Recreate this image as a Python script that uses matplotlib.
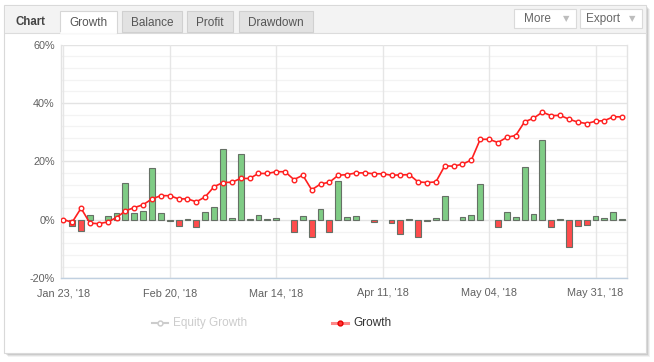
import numpy as np
import matplotlib
matplotlib.use("Agg")
import matplotlib.pyplot as plt
from matplotlib.patches import Rectangle

# ---- data ----
tick_positions = [0, 12, 24, 36, 48, 60]
tick_labels = ["Jan 23, '18", "Feb 20, '18", "Mar 14, '18", "Apr 11, '18", "May 04, '18", "May 31, '18"]
y_ticks = [-20, 0, 20, 40, 60]
y_labels = ["-20%", "0%", "20%", "40%", "60%"]

growth = [0.1, -0.8, 4.0, -1.1, -1.3, -0.7, 0.8, 3.1, 4.2, 5.2,
          7.2, 8.3, 8.3, 7.2, 7.2, 6.2, 7.9, 11.4, 12.8, 12.9,
          14.2, 14.2, 15.9, 15.9, 16.5, 16.5, 13.8, 15.3, 10.3, 12.3,
          12.9, 15.3, 15.5, 16.1, 16.1, 15.8, 15.8, 15.3, 15.4, 15.5,
          13.0, 12.8, 13.0, 18.5, 18.4, 19.1, 20.5, 27.6, 27.6, 26.5,
          28.3, 28.9, 33.6, 34.8, 36.9, 35.7, 35.8, 34.5, 33.5, 33.0,
          33.8, 34.0, 35.3, 35.3]

period = [0.0, -2.1, -3.9, 1.6, 0.0, 1.2, 2.3, 12.6, 2.3, 3.0,
          17.7, 2.3, -0.4, -2.2, 0.3, -2.5, 2.6, 4.3, 24.2, 0.6,
          22.5, 0.3, 1.6, 0.3, 0.6, 0.0, -4.2, 1.3, -5.7, 3.7,
          -4.0, 13.3, 0.9, 1.3, 0.0, -0.8, 0.0, -1.1, -4.9, 0.3,
          -5.7, -0.5, 0.6, 8.1, 0.0, 0.9, 1.7, 12.2, 0.0, -2.5,
          2.6, 0.9, 18.1, 2.0, 27.3, -2.5, 0.3, -9.4, -2.2, -1.9,
          1.3, 0.6, 2.6, 0.3]

W, H = 654, 362
fig = plt.figure(figsize=(W / 100, H / 100), dpi=100)
fig.patch.set_facecolor("white")

# ---- overlay for page decorations (pixel coords) ----
ov = fig.add_axes([0, 0, 1, 1], zorder=0)
ov.set_xlim(0, W)
ov.set_ylim(H, 0)
ov.axis("off")

# shadow
for k, a in [(4, 0.05), (3, 0.07), (2, 0.09), (1, 0.12)]:
    ov.add_patch(Rectangle((4 + k, 5 + k), 642, 348, facecolor="#000000", alpha=a, edgecolor="none", zorder=0))
# panel
ov.add_patch(Rectangle((4, 5), 642, 348, facecolor="white", edgecolor="#d9d9d9", lw=0.8, zorder=1))
# header bar
ov.add_patch(Rectangle((4.5, 5.5), 641, 27, facecolor="#f3f3f3", edgecolor="none", zorder=2))
ov.plot([4.5, 645.5], [32.5, 32.5], color="#dcdcdc", lw=0.8, zorder=3)

hfont = "Liberation Sans"
ov.text(16, 22, "Chart", fontsize=8.3, fontweight="bold", color="#444444", ha="left", va="center",
        family=hfont, zorder=5)
tabs = [("Growth", 60, 117, True), ("Balance", 122, 182, False),
        ("Profit", 187, 233, False), ("Drawdown", 239, 313, False)]
for name, x0, x1, active in tabs:
    fc = "white" if active else "#e2e2e2"
    ec = "#d6d6d6" if active else "#d0d0d0"
    hh = 22 if active else 21
    ov.add_patch(Rectangle((x0, 11), x1 - x0, hh, facecolor=fc, edgecolor=ec, lw=0.8, zorder=4))
    ov.text((x0 + x1) / 2, 22.5, name, fontsize=8.5, color="#555555", ha="center", va="center",
            family=hfont, zorder=5)
ov.plot([60.6, 116.4], [32.5, 32.5], color="white", lw=1.2, zorder=4.5)

for name, x0, x1, tx in [("More", 514, 576, 537), ("Export", 580, 642, 603)]:
    ov.add_patch(Rectangle((x0, 9), x1 - x0, 19, facecolor="white", edgecolor="#dadada", lw=0.8, zorder=4))
    ov.text(tx, 18.8, name, fontsize=8.5, color="#666666", ha="center", va="center", family=hfont, zorder=5)
    ov.text(x1 - 10, 19, "\u25BC", fontsize=6, color="#bdbdbd", ha="center", va="center",
            family="DejaVu Sans", zorder=5)

# legend
ov.plot([152, 168], [323, 323], color="#cccccc", lw=1.5, zorder=5)
ov.plot([160], [323], marker="o", ms=3.5, mfc="white", mec="#cccccc", mew=1.1, zorder=6)
ov.text(173, 323, "Equity Growth", fontsize=8.5, color="#cccccc", ha="left", va="center",
        family=hfont, zorder=5)
ov.plot([332, 348], [323, 323], color="#ff3b3b", lw=2.2, alpha=0.6, zorder=5)
ov.plot([340], [323], marker="o", ms=3.5, mfc="#ff3333", mec="#e60000", mew=1.0, zorder=6)
ov.text(353, 323, "Growth", fontsize=8.5, color="#333333", ha="left", va="center",
        family=hfont, zorder=5)

# ---- main chart ----
L, R, T, B = 61, 627.3, 44.7, 278.3
ax = fig.add_axes([L / W, 1 - B / H, (R - L) / W, (B - T) / H], zorder=2)
ax.set_facecolor("none")
x = np.arange(len(growth))
ax.set_xlim(-0.26, 63.58)
ax.set_ylim(-20, 60)

for v in range(-20, 61, 4):
    if v % 20 == 0:
        ax.axhline(v, color="#e3e3e3", lw=1.0, zorder=0)
    else:
        ax.axhline(v, color="#f3f3f3", lw=0.9, zorder=0)
for p in tick_positions:
    ax.axvline(p, color="#e6e6e6", lw=1.0, zorder=0)

per = np.array(period)
mask = per != 0
colors = np.where(per > 0, "#7fcc85", "#ff4c4c")
ax.bar(x[mask], per[mask], width=0.66, color=colors[mask], edgecolor="#667066", lw=0.8, zorder=2)

ax.plot(x, growth, color="#ff1f1f", lw=1.2, marker="o", ms=3.3, mfc="white", mec="#ff1f1f",
        mew=1.0, zorder=3)

ax.set_xticks(tick_positions)
ax.set_xticklabels(tick_labels)
ax.set_yticks(y_ticks)
ax.set_yticklabels(y_labels)
ax.tick_params(axis="x", length=0, pad=7.2, labelsize=7.8, labelcolor="#606060")
ax.tick_params(axis="y", length=0, pad=4.5, labelsize=7.8, labelcolor="#606060")
for lab in ax.get_xticklabels() + ax.get_yticklabels():
    lab.set_family(hfont)

ax.spines["top"].set_visible(False)
ax.spines["left"].set_color("#e3e3e3")
ax.spines["right"].set_color("#e3e3e3")
ax.spines["bottom"].set_color("#c0d0e0")
for s in ["left", "right", "bottom"]:
    ax.spines[s].set_linewidth(1.0)

fig.savefig("out.png", dpi=100)
